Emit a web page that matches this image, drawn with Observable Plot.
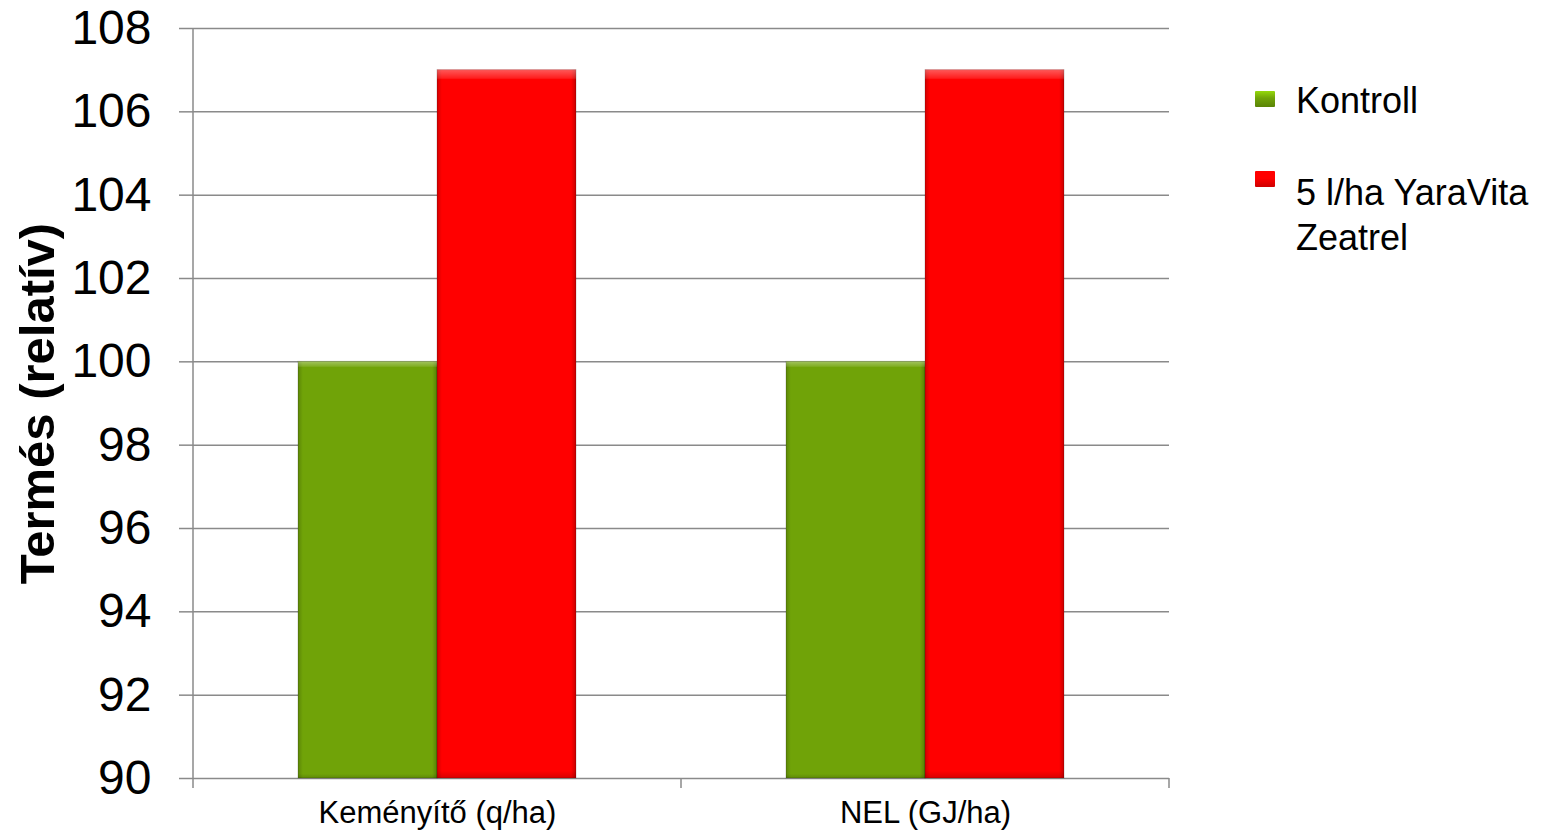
<!DOCTYPE html>
<html>
<head>
<meta charset="utf-8">
<script src="https://cdn.jsdelivr.net/npm/d3@7"></script>
<script src="https://cdn.jsdelivr.net/npm/@observablehq/plot@0.6"></script>
<style>
  html, body { margin: 0; padding: 0; background: #fff; }
  #wrap { position: relative; width: 1553px; height: 833px; font-family: "Liberation Sans", Arial, sans-serif; }
  #legend { position: absolute; left: 1255px; top: 78px; font-size: 36px; color: #000; }
  .sw { position: absolute; left: 0; width: 20px; height: 16px; border-radius: 1px; }
  .lab { position: absolute; left: 41px; line-height: 45px; white-space: nowrap; }
</style>
</head>
<body>
<div id="wrap"></div>
<script>
// ---- data ----
const categories = ["Keményítő (q/ha)", "NEL (GJ/ha)"];
const series = ["Kontroll", "5 l/ha YaraVita Zeatrel"];
const kontroll = [100, 100];
const zeatrel = [107, 107];
const yTicks = [90, 92, 94, 96, 98, 100, 102, 104, 106, 108];
const yLabel = "Termés (relatív)";
const legendLabels = ["Kontroll", "5 l/ha YaraVita<br>Zeatrel"];

// ---- styles ----
const colors = ["#70A308", "#FF0000"];
const gridColor = "#8a8a8a";
const yDomain = [90, 108];

const rows = [];
categories.forEach((c, i) => {
  rows.push({category: c, series: series[0], value: kontroll[i]});
  rows.push({category: c, series: series[1], value: zeatrel[i]});
});

// y-axis line and category-boundary ticks, drawn from the fx and y scales
function edgeRender(index, scales, values, dims) {
  const {fx, y} = scales;
  let edges;
  if (fx && fx.bandwidth) {
    edges = categories.map(c => fx(c));
    edges.push(fx(categories[categories.length - 1]) + fx.bandwidth());
  } else {
    const l = dims.marginLeft, r = dims.width - dims.marginRight;
    edges = d3.range(categories.length + 1).map(i => l + (r - l) * i / categories.length);
  }
  const y0 = y(yDomain[0]);
  const g = d3.create("svg:g").attr("stroke", gridColor).attr("stroke-width", 1.5).attr("fill", "none");
  edges.forEach(e => g.append("line").attr("x1", e).attr("x2", e).attr("y1", y0).attr("y2", y0 + 10));
  g.append("line").attr("x1", edges[0]).attr("x2", edges[0]).attr("y1", y(yDomain[1])).attr("y2", y0);
  return g.node();
}

const chart = Plot.plot({
  width: 1553,
  height: 833,
  marginLeft: 193,
  marginRight: 384,
  marginTop: 28,
  marginBottom: 55,
  style: {fontFamily: '"Liberation Sans", Arial, sans-serif', color: "#000", background: "#fff"},
  fx: {domain: categories, padding: 0, axis: null},
  x: {domain: series, paddingInner: 0, paddingOuter: 0.755, axis: null},
  y: {domain: yDomain, axis: null},
  color: {domain: series, range: colors},
  marks: [
    Plot.gridY(yTicks, {stroke: gridColor, strokeOpacity: 1, strokeWidth: 1.5}),
    Plot.barY(rows, {
      fx: "category", x: "series", y1: yDomain[0], y2: "value", fill: "series",
      stroke: "#00000030", strokeWidth: 1
    }),
    // bevel shading overlays
    Plot.barY(rows, {fx: "category", x: "series", y1: yDomain[0], y2: "value", fill: "url(#bevelH)"}),
    Plot.barY(rows, {fx: "category", x: "series", y1: yDomain[0], y2: "value", fill: "url(#bevelV)"}),
    Plot.axisY({ticks: yTicks, tickSize: 14, tickPadding: 28, fontSize: 48, stroke: gridColor, strokeWidth: 1.5, label: null, tickFormat: d => String(d)}),
    Plot.axisFx({anchor: "bottom", tickSize: 0, tickPadding: 22, fontSize: 31, label: null}),
    Plot.frame({facet: "super", render: edgeRender}),
    Plot.text([yLabel], {
      facet: "super", frameAnchor: "left", textAnchor: "middle", dx: -155, rotate: -90,
      fontSize: 49, fontWeight: "bold", fill: "#000"
    })
  ]
});

// gradient definitions for the bevel overlays
const defs = d3.select(chart).insert("defs", ":first-child");
const gh = defs.append("linearGradient").attr("id", "bevelH").attr("x1", 0).attr("x2", 1).attr("y1", 0).attr("y2", 0);
[[0, "#000", 0.18], [0.035, "#000", 0], [0.965, "#000", 0], [1, "#000", 0.22]].forEach(([o, c, a]) =>
  gh.append("stop").attr("offset", o).attr("stop-color", c).attr("stop-opacity", a));
const gv = defs.append("linearGradient").attr("id", "bevelV").attr("x1", 0).attr("x2", 0).attr("y1", 0).attr("y2", 1);
[[0, "#fff", 0.35], [0.012, "#fff", 0.12], [0.014, "#fff", 0], [0.99, "#000", 0], [1, "#000", 0.15]].forEach(([o, c, a]) =>
  gv.append("stop").attr("offset", o).attr("stop-color", c).attr("stop-opacity", a));

const wrap = document.getElementById("wrap");
wrap.appendChild(chart);

const legend = document.createElement("div");
legend.id = "legend";
const tops = [0, 92];
const swTops = [13, 1];
series.forEach((s, i) => {
  const item = document.createElement("div");
  item.style.top = tops[i] + "px";
  item.style.position = "absolute";
  const c = colors[i];
  const light = d3.color(c).brighter(0.8).formatHex();
  const dark = d3.color(c).darker(0.6).formatHex();
  item.innerHTML = `<div class="sw" style="top:${swTops[i]}px;background:linear-gradient(${light}, ${c} 45%, ${dark});"></div>` +
    `<div class="lab" style="top:0px">${legendLabels[i]}</div>`;
  legend.appendChild(item);
});
wrap.appendChild(legend);
</script>
</body>
</html>
